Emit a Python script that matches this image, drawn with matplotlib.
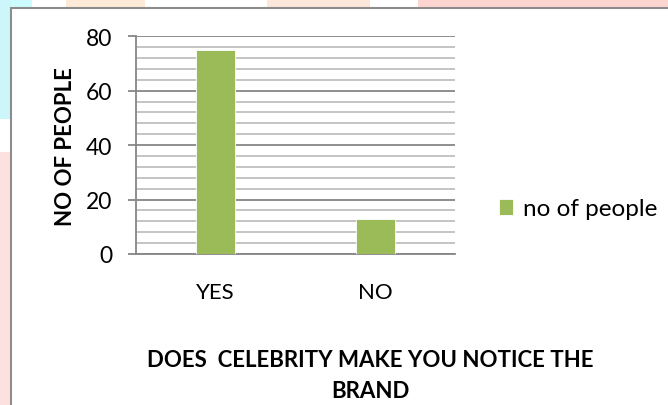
import matplotlib.pyplot as plt
from matplotlib.patches import Rectangle
from matplotlib.ticker import MultipleLocator

categories = ["YES", "NO"]
people = [75, 13]
series_name = "no of people"
y_label = "NO OF PEOPLE"
chart_title = "DOES  CELEBRITY MAKE YOU NOTICE THE\nBRAND"

plt.rcParams['font.family'] = ['Lato', 'DejaVu Sans']

W, H = 668, 406
fig = plt.figure(figsize=(W / 100, H / 100), dpi=100)


def px_rect(x, y, w, h, color):
    # rectangle given in pixels from the top left corner
    fig.patches.append(Rectangle((x / W, 1 - (y + h) / H), w / W, h / H,
                                 transform=fig.transFigure, color=color,
                                 zorder=-2, lw=0))


# pale page colours showing round the chart frame
px_rect(0, 0, 32, 9, '#ccfcfd')
px_rect(66, 0, 79, 9, '#fdebd8')
px_rect(267, 0, 103, 9, '#fde6da')
px_rect(418, 0, 250, 9, '#fdd5d0')
px_rect(0, 0, 11, 120, '#cdf6fb')
px_rect(0, 153, 11, 253, '#fde1e1')

# chart frame
fig.patches.append(Rectangle((11 / W, -0.1), 1.1, 1 - 9 / H + 0.1,
                             transform=fig.transFigure, facecolor='white',
                             edgecolor='#8c8c8c', lw=1.5, zorder=-1))

ax = fig.add_axes([136 / W, 1 - 255 / H, 319 / W, 217.7 / H])
ax.set_facecolor('none')

x = list(range(len(categories)))
ax.bar(x, people, width=0.245, color='#9bbb59', label=series_name, zorder=3,
       edgecolor='white', linewidth=0.6)

ax.set_xlim(-0.5, 1.5)
ax.set_ylim(0, 80)
ax.yaxis.set_major_locator(MultipleLocator(20))
ax.yaxis.set_minor_locator(MultipleLocator(4))
ax.grid(which='major', axis='y', color='#868686', lw=1.3, zorder=1)
ax.grid(which='minor', axis='y', color='#bfbfbf', lw=1.3, zorder=1)

ax.set_xticks(x)
ax.set_xticklabels(categories, fontsize=16)
ax.tick_params(axis='x', length=0, pad=20)
ax.tick_params(axis='y', which='major', length=6, color='#868686', width=1.3,
               labelsize=16.5, pad=11)
ax.tick_params(axis='y', which='minor', length=0)

for side in ['top', 'right']:
    ax.spines[side].set_visible(False)
for side in ['left', 'bottom']:
    ax.spines[side].set_color('#868686')
    ax.spines[side].set_linewidth(1.3)

ax.set_ylabel(y_label, fontsize=16, fontweight='bold', labelpad=7)

fig.text(370 / W, 1 - 376 / H, chart_title, ha='center', va='center',
         fontsize=16, fontweight='bold', linespacing=1.6)

ax.legend(loc='center left', bbox_to_anchor=(1.069, 0.207), frameon=False,
          fontsize=17.5, handlelength=0.6, handleheight=0.6, handletextpad=0.4)

fig.savefig('out.png', dpi=100)
